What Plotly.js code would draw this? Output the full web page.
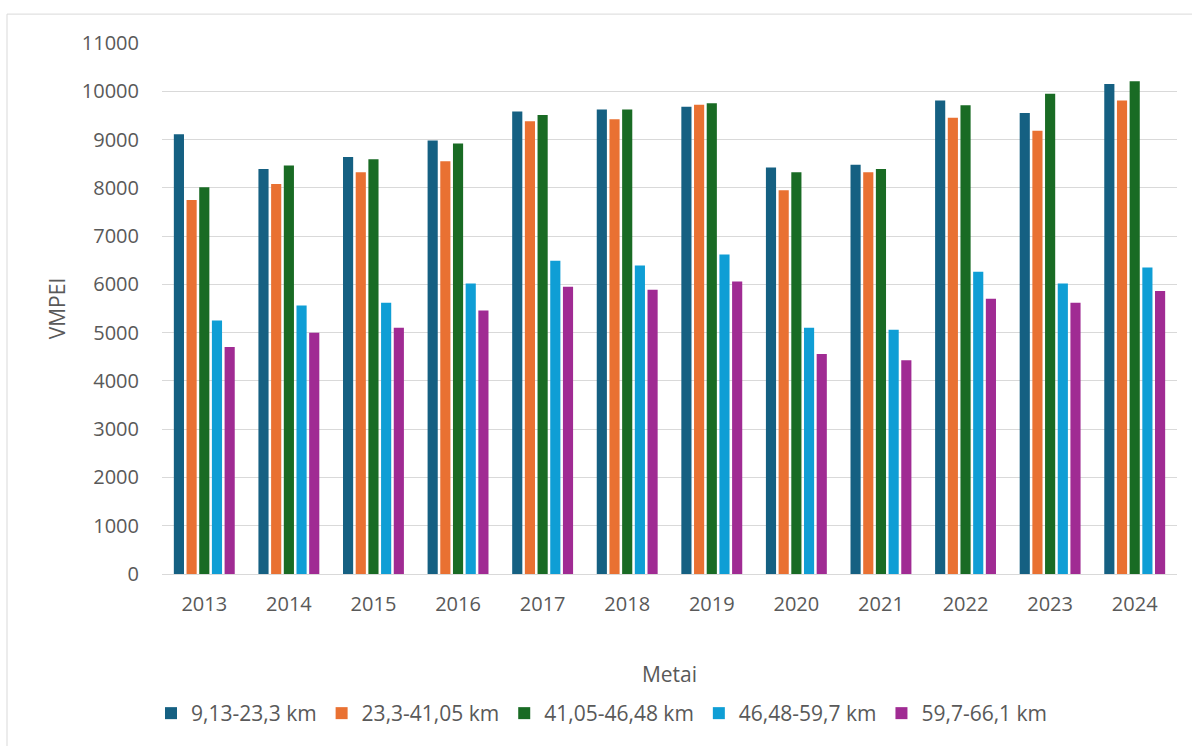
<!DOCTYPE html>
<html>
<head>
<meta charset="utf-8">
<script src="https://cdn.plot.ly/plotly-3.0.1.min.js"></script>
<style>html,body{margin:0;padding:0;background:#fff;}#chart{width:1192px;height:746px;}</style>
</head>
<body>
<div id="chart"></div>
<script>
const years = ['2013','2014','2015','2016','2017','2018','2019','2020','2021','2022','2023','2024'];
const seriesNames = ['9,13-23,3 km','23,3-41,05 km','41,05-46,48 km','46,48-59,7 km','59,7-66,1 km'];
const s1 = [9110, 8390, 8640, 8980, 9580, 9620, 9680, 8420, 8480, 9810, 9550, 10150];
const s2 = [7750, 8080, 8320, 8550, 9380, 9420, 9720, 7950, 8320, 9450, 9180, 9810];
const s3 = [8010, 8460, 8590, 8920, 9510, 9620, 9750, 8320, 8390, 9710, 9950, 10210];
const s4 = [5250, 5560, 5620, 6020, 6490, 6390, 6620, 5100, 5060, 6260, 6020, 6350];
const s5 = [4700, 5000, 5100, 5460, 5950, 5890, 6060, 4560, 4430, 5700, 5620, 5860];
const colors = ['#156082','#E97132','#196B24','#0F9ED5','#A02B93'];
const allSeries = [s1,s2,s3,s4,s5];
const yTicks = [0,1000,2000,3000,4000,5000,6000,7000,8000,9000,10000,11000];

const traces = allSeries.map((vals,i)=>({
  type:'bar', x:years, y:vals, name:seriesNames[i],
  marker:{color:colors[i]}, hoverinfo:'x+y+name'
}));

const font = "'Open Sans', 'Liberation Sans', sans-serif";
const layout = {
  width:1192, height:746,
  margin:{l:162, r:15, t:43, b:170},
  paper_bgcolor:'#ffffff', plot_bgcolor:'#ffffff',
  font:{family:font, color:'#595959', size:20},
  barmode:'group', bargap:0.25, bargroupgap:0.2,
  showlegend:true,
  legend:{orientation:'h', x:0.4335, xanchor:'center', y:-0.2627, yanchor:'middle',
          font:{size:21, color:'#595959'}, traceorder:'normal'},
  xaxis:{type:'category', showgrid:false, zeroline:false,
         showline:true, linecolor:'#d9d9d9', linewidth:1,
         tickfont:{size:20, color:'#595959'}, ticks:'',
         ticklabelstandoff:12,
         title:{text:'Metai', font:{size:21, color:'#595959'}, standoff:51}},
  yaxis:{range:[0,11000], tickvals:yTicks, ticktext:yTicks.map(String),
         showgrid:true, gridcolor:'#d9d9d9', gridwidth:1, zeroline:false,
         showline:false, ticks:'', ticklabelstandoff:22,
         tickfont:{size:20, color:'#595959'},
         title:{text:'VMPEI', font:{size:21, color:'#595959'}, standoff:10}},
  shapes:[{type:'rect', xref:'paper', yref:'paper', x0:-0.1527, x1:1.03, y0:-0.35, y1:1.0544,
           line:{color:'#d9d9d9', width:1}, fillcolor:'rgba(0,0,0,0)', layer:'below'}]
};
Plotly.newPlot('chart', traces, layout, {displayModeBar:false, staticPlot:true});
</script>
</body>
</html>
